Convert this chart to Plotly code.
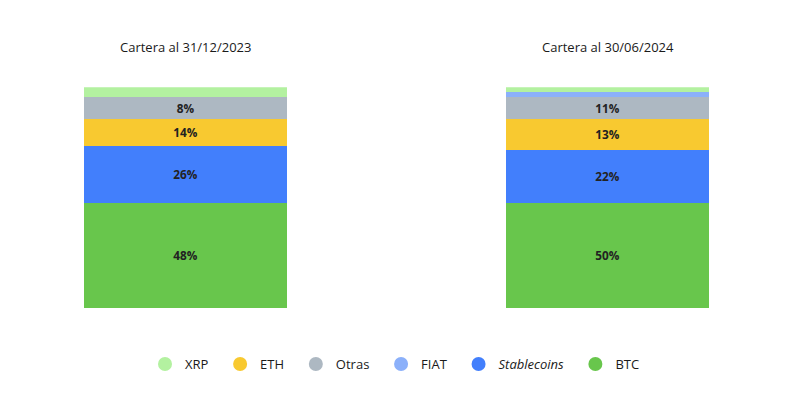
import plotly.graph_objects as go

categories = ["BTC", "Stablecoins", "ETH", "Otras", "FIAT", "XRP"]
legend_names = ["BTC", "<i>Stablecoins</i>", "ETH", "Otras", "FIAT", "XRP"]
colors = ["#68c64c", "#427ffc", "#f8c930", "#adb8c2", "#8bb0fa", "#b3f1a0"]
# segment heights as drawn (percent of bar)
values_2023 = [47.6, 25.6, 12.5, 9.8, 0, 4.5]
values_2024 = [47.6, 23.8, 14.2, 9.9, 2.3, 2.2]
# printed labels
labels_2023 = ["48%", "26%", "14%", "8%", "", ""]
labels_2024 = ["50%", "22%", "13%", "11%", "", ""]
titles = ["Cartera al 31/12/2023", "Cartera al 30/06/2024"]

OFF = 8  # page body margin offset
W, H = 800, 395

def px_x(x):
    return (x - OFF) / W

def px_y(y):
    return (H - (y - OFF)) / H

fig = go.Figure()
for i, cat in enumerate(categories):
    fig.add_trace(go.Bar(x=[titles[0]], y=[values_2023[i]], text=[labels_2023[i]],
                         marker=dict(color=colors[i], line=dict(width=0)),
                         xaxis="x", yaxis="y", showlegend=False, name=cat,
                         textposition="inside", insidetextanchor="middle"))
    fig.add_trace(go.Bar(x=[titles[1]], y=[values_2024[i]], text=[labels_2024[i]],
                         marker=dict(color=colors[i], line=dict(width=0)),
                         xaxis="x2", yaxis="y2", showlegend=False, name=cat,
                         textposition="inside", insidetextanchor="middle"))

pad = "\u00a0\u00a0"
for idx in [5, 2, 3, 4, 1, 0]:
    fig.add_trace(go.Scatter(x=[None], y=[None], mode="markers", name=legend_names[idx] + pad,
                             marker=dict(color=colors[idx], size=14, symbol="circle"),
                             xaxis="x", yaxis="y", showlegend=True))

ydom = [px_y(308.7), px_y(87.3)]
fig.update_layout(
    width=W, height=H,
    margin=dict(l=0, r=0, t=0, b=0),
    paper_bgcolor="white", plot_bgcolor="white",
    barmode="stack", bargap=0,
    font=dict(family="Open Sans", size=13, color="#1a1a1a"),
    uniformtext=dict(mode="show", minsize=8),
    xaxis=dict(domain=[px_x(84), px_x(287)], visible=False),
    xaxis2=dict(domain=[px_x(506), px_x(709)], visible=False, anchor="y2"),
    yaxis=dict(domain=ydom, range=[0, 100], visible=False),
    yaxis2=dict(domain=ydom, range=[0, 100], visible=False, anchor="x2"),
    legend=dict(orientation="h", x=px_x(145), xanchor="left", y=px_y(364), yanchor="middle",
                itemwidth=30,
                font=dict(family="Open Sans", size=13, color="#1a1a1a"), traceorder="normal"),
    annotations=[
        dict(text=titles[0], x=px_x(185.5), y=px_y(47), xref="paper", yref="paper",
             xanchor="center", yanchor="middle",
             showarrow=False, font=dict(family="Open Sans", size=13, color="#1a1a1a")),
        dict(text=titles[1], x=px_x(607.5), y=px_y(47), xref="paper", yref="paper",
             xanchor="center", yanchor="middle",
             showarrow=False, font=dict(family="Open Sans", size=13, color="#1a1a1a")),
    ],
)
fig.update_traces(selector=dict(type="bar"),
                  textfont=dict(family="Open Sans", size=14, color="#222222", weight="bold"))
fig.write_html("out.html")
